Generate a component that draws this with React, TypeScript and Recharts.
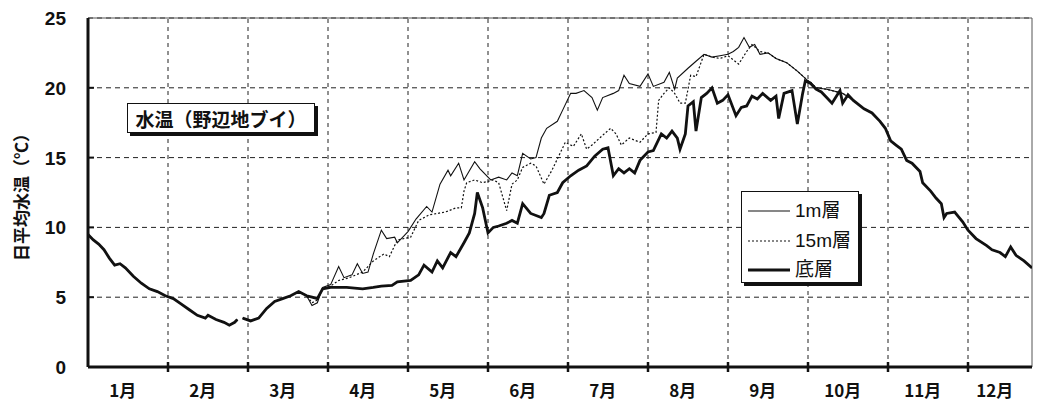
import React from 'react';
import { LineChart, Line, XAxis, YAxis, CartesianGrid, ReferenceLine, Legend } from 'recharts';

type Pt = [number, number | null];

// ---- axis / category data ----
const monthLabels = ['1月', '2月', '3月', '4月', '5月', '6月', '7月', '8月', '9月', '10月', '11月', '12月'];
const monthLabelDays = [13, 43, 73, 103, 133, 163, 193, 223, 253, 283, 313, 340];
const monthBoundaryDays = [30, 60, 90, 120, 150, 180, 210, 240, 270, 300, 330];
const tempTicks = [0, 5, 10, 15, 20, 25];
const seriesNames = ['1m層', '15m層', '底層'];
const chartTitle = '水温（野辺地ブイ）';
const yTitle = '日平均水温（℃）';

// ---- series values: [day index, daily mean temperature] ----
const winterShared: Pt[] = [
  [0, 9.5], [2, 9.1], [4, 8.8], [6, 8.4], [8, 7.8], [10, 7.3], [12, 7.4], [14, 7.1], [17, 6.5], [20, 6.0],
  [23, 5.6], [26, 5.4], [29, 5.1], [32, 4.9], [35, 4.5], [38, 4.1], [41, 3.7], [44, 3.5], [45, 3.7], [48, 3.4],
  [51, 3.2], [53, 3.0], [55, 3.2], [56, 3.4], [57, null], [58, 3.5], [61, 3.3], [64, 3.5], [67, 4.2], [70, 4.7],
  [73, 4.9], [76, 5.1], [79, 5.4], [82, 5.1],
];

const surfaceSummer: Pt[] = [
  [84, 4.4], [86, 4.6], [88, 5.7], [91, 5.9], [94, 7.2], [96, 6.4], [99, 6.6], [101, 7.4], [103, 6.7], [105, 6.8],
  [107, 8.1], [110, 9.8], [112, 9.2], [115, 9.3], [116, 8.9], [120, 9.7], [123, 10.6], [127, 11.5], [129, 11.1], [132, 13.1],
  [135, 14.1], [136, 13.7], [139, 14.6], [141, 13.4], [145, 14.7], [147, 14.2], [151, 13.4], [154, 13.6], [157, 13.4], [159, 13.9],
  [161, 13.7], [163, 15.3], [166, 14.9], [168, 15.0], [170, 16.4], [172, 17.1], [176, 17.6], [178, 18.4], [181, 19.6], [183, 19.6],
  [186, 19.8], [189, 19.3], [191, 18.4], [193, 19.3], [197, 19.6], [199, 19.8], [201, 20.9], [203, 20.3], [207, 20.1], [210, 21.0],
  [212, 20.1], [216, 20.4], [218, 21.1], [220, 19.9], [221, 20.7], [225, 21.4], [228, 21.9], [231, 22.4], [234, 22.2], [237, 22.3],
  [240, 22.4], [242, 22.6], [244, 22.9], [246, 23.6], [248, 22.9], [250, 23.1], [252, 22.4], [255, 22.5], [258, 22.1], [262, 21.8],
  [266, 21.2], [270, 20.5],
];

const middleSummer: Pt[] = [
  [84, 4.6], [86, 4.8], [88, 5.6], [91, 5.8], [94, 6.2], [98, 6.4], [103, 6.8], [107, 7.6], [111, 8.1], [113, 7.9],
  [116, 9.1], [121, 9.3], [124, 10.5], [128, 10.9], [131, 11.0], [134, 11.1], [138, 11.4], [140, 11.4], [141, 12.6], [142, 13.2],
  [145, 13.4], [148, 13.2], [152, 13.4], [154, 13.2], [157, 11.2], [159, 13.1], [161, 13.4], [163, 14.3], [166, 14.6], [168, 14.4],
  [171, 13.1], [174, 14.1], [176, 14.9], [179, 16.1], [182, 15.8], [185, 16.7], [187, 15.6], [189, 15.9], [193, 16.6], [196, 17.1],
  [198, 16.7], [200, 15.9], [203, 16.4], [207, 16.1], [210, 16.7], [213, 16.8], [214, 19.1], [216, 19.6], [218, 20.0], [220, 19.6],
  [222, 18.9], [224, 18.9], [226, 20.9], [228, 20.8], [231, 22.4], [234, 22.2], [237, 22.1], [240, 22.3], [244, 21.7], [247, 22.6],
  [249, 23.1], [252, 22.6], [255, 22.5], [258, 22.1], [262, 21.8], [266, 21.2], [270, 20.5],
];

const bottomSummer: Pt[] = [
  [84, 5.0], [86, 4.9], [88, 5.6], [91, 5.7], [94, 5.7], [97, 5.7], [100, 5.65], [103, 5.6], [107, 5.7], [110, 5.8],
  [114, 5.85], [116, 6.1], [121, 6.2], [124, 6.6], [126, 7.3], [129, 6.8], [131, 7.6], [133, 7.1], [136, 8.2], [138, 7.9],
  [141, 8.9], [143, 9.6], [145, 11.0], [146, 12.5], [148, 11.4], [150, 9.6], [152, 10.0], [154, 10.1], [157, 10.3], [159, 10.5],
  [161, 10.3], [163, 11.7], [166, 11.0], [170, 10.7], [171, 11.0], [173, 12.3], [176, 12.5], [178, 13.2], [181, 13.7], [184, 14.1],
  [187, 14.4], [190, 15.1], [193, 15.6], [195, 15.7], [197, 13.7], [199, 14.2], [201, 13.9], [203, 14.2], [205, 13.9], [207, 14.8],
  [210, 15.4], [212, 15.5], [215, 16.7], [217, 16.4], [219, 16.9], [221, 16.4], [222, 15.6], [224, 16.7], [225, 18.7], [227, 19.0],
  [228, 16.9], [230, 19.3], [232, 19.6], [234, 20.0], [236, 18.9], [238, 19.1], [240, 19.5], [243, 18.0], [245, 18.6], [247, 18.7],
  [249, 19.4], [251, 19.2], [253, 19.6], [256, 19.1], [258, 19.4], [259, 17.8], [261, 19.6], [264, 19.8], [266, 17.4], [268, 19.6],
  [269, 20.5],
];

const bottomOctober: Pt[] = [
  [271, 20.3], [273, 19.9], [275, 19.7], [277, 19.3], [279, 18.9], [281, 19.5], [282, 19.8], [283, 18.9], [285, 19.5], [287, 19.1],
];

const autumnShared: Pt[] = [
  [271, 20.4], [273, 20.0], [277, 19.9], [279, 19.8], [283, 19.6], [287, 19.1], [291, 18.5], [294, 18.2], [297, 17.6], [299, 17.1],
  [301, 16.2], [303, 15.9], [305, 15.6], [307, 14.8], [309, 14.6], [312, 14.0], [313, 13.2], [316, 12.6], [318, 12.1], [320, 11.7],
  [321, 10.7], [322, 11.0], [325, 11.1], [328, 10.4], [330, 9.8], [333, 9.2], [337, 8.7], [339, 8.4], [342, 8.2], [344, 7.9],
  [346, 8.6], [348, 8.0], [351, 7.6], [354, 7.1],
];

const toRows = (pts: Pt[]) => pts.map(([day, t]) => ({ day, t }));

const surfaceRows = toRows([...winterShared, ...surfaceSummer, ...autumnShared]);
const middleRows = toRows([...winterShared, ...middleSummer, ...autumnShared]);
const bottomRows = toRows([
  ...winterShared,
  ...bottomSummer,
  ...bottomOctober,
  ...autumnShared.filter(([d]) => d >= 291),
]);

const INK = '#111';
const lineStyles: Record<string, { width: number; dash?: string }> = {
  '1m層': { width: 1.1 },
  '15m層': { width: 1.2, dash: '2 2' },
  '底層': { width: 2.8 },
};

const XTick = (props: any) => {
  const { x, payload } = props;
  const v = payload.value;
  const idx = monthLabelDays.indexOf(v);
  if (idx >= 0) {
    return (
      <text x={x} y={397} textAnchor="middle" fontSize={17} fontWeight="bold"
        fontFamily="'Noto Sans CJK JP', sans-serif" fill={INK}>
        {monthLabels[idx]}
      </text>
    );
  }
  return <line x1={x} x2={x} y1={362} y2={372} stroke={INK} strokeWidth={2.5} />;
};

const YTick = (props: any) => {
  const { y, payload } = props;
  const v = payload.value;
  return (
    <g>
      <text x={66} y={y} dy={7} textAnchor="end" fontSize={19} fontWeight="bold"
        fontFamily="'Liberation Sans', sans-serif" fill={INK}>
        {v}
      </text>
      {v > 0 && v < 25 && <line x1={88} x2={94} y1={y} y2={y} stroke={INK} strokeWidth={2} />}
    </g>
  );
};

const LegendBox = (props: any) => {
  const payload: any[] = props.payload || [];
  const entries = seriesNames.filter((n) => payload.some((p: any) => p.value === n));
  return (
    <div style={{
      width: 118, height: 92, boxSizing: 'border-box', border: '1.5px solid #111',
      background: '#fff', boxShadow: '3px 3px 0 #111', position: 'relative',
    }}>
      {entries.map((name: string, i: number) => {
        const st = lineStyles[name] || { width: 1 };
        return (
          <div key={name} style={{ position: 'absolute', left: 5, top: 6 + i * 29.5, height: 26, display: 'flex', alignItems: 'center' }}>
            <svg width={44} height={10} style={{ display: 'block' }}>
              <line x1={1} x2={43} y1={5} y2={5} stroke={INK} strokeWidth={st.width} strokeDasharray={st.dash} />
            </svg>
            <span style={{
              marginLeft: 4, fontSize: 19, lineHeight: '26px', color: INK,
              fontFamily: "'Liberation Sans', 'Noto Sans CJK JP', sans-serif",
            }}>{name}</span>
          </div>
        );
      })}
    </div>
  );
};

export default function App() {
  return (
    <div style={{ position: 'absolute', left: 0, top: 0, width: 1040, height: 405, background: '#fff' }}>
      <LineChart width={1040} height={405} margin={{ top: 18, right: 8, bottom: 0, left: 0 }}>
        <CartesianGrid vertical={false} stroke="#222" strokeDasharray="5 4" />
        {monthBoundaryDays.map((d) => (
          <ReferenceLine key={d} x={d} stroke="#222" strokeDasharray="4 4" />
        ))}
        <ReferenceLine y={25} stroke="#555" strokeWidth={1} />
        <ReferenceLine x={354} stroke="#555" strokeWidth={1} />
        <XAxis
          dataKey="day"
          type="number"
          domain={[0, 354]}
          ticks={[...monthLabelDays, ...monthBoundaryDays].sort((a, b) => a - b)}
          interval={0}
          tick={<XTick />}
          tickLine={false}
          axisLine={{ stroke: INK, strokeWidth: 3 }}
          height={38}
          allowDataOverflow
        />
        <YAxis
          type="number"
          domain={[0, 25]}
          ticks={tempTicks}
          interval={0}
          tick={<YTick />}
          tickLine={false}
          axisLine={{ stroke: INK, strokeWidth: 3 }}
          width={88}
          label={{
            content: () => (
              <text x={20} y={193} transform="rotate(-90, 20, 193)" textAnchor="middle" dominantBaseline="central"
                fontSize={17} fontWeight="bold" fontFamily="'Noto Sans CJK JP', sans-serif" fill={INK}>
                {yTitle}
              </text>
            ),
          }}
        />
        <Line data={surfaceRows} dataKey="t" name={seriesNames[0]} type="linear" stroke={INK}
          strokeWidth={lineStyles['1m層'].width} dot={false} isAnimationActive={false} />
        <Line data={middleRows} dataKey="t" name={seriesNames[1]} type="linear" stroke={INK}
          strokeWidth={lineStyles['15m層'].width} strokeDasharray={lineStyles['15m層'].dash} dot={false} isAnimationActive={false} />
        <Line data={bottomRows} dataKey="t" name={seriesNames[2]} type="linear" stroke={INK}
          strokeWidth={lineStyles['底層'].width} dot={false} isAnimationActive={false} />
        <Legend
          layout="vertical"
          align="center"
          verticalAlign="middle"
          content={<LegendBox />}
          wrapperStyle={{ left: 741, top: 191, width: 121, height: 95 }}
        />
      </LineChart>
      <div style={{
        position: 'absolute', left: 127, top: 103, width: 188, height: 30, boxSizing: 'border-box',
        border: '1.5px solid #111', background: '#fff', boxShadow: '3px 3px 0 #111',
        display: 'flex', alignItems: 'center', justifyContent: 'center',
        fontSize: 19, fontWeight: 'bold', color: INK, fontFamily: "'Noto Sans CJK JP', sans-serif",
      }}>
        {chartTitle}
      </div>
    </div>
  );
}
